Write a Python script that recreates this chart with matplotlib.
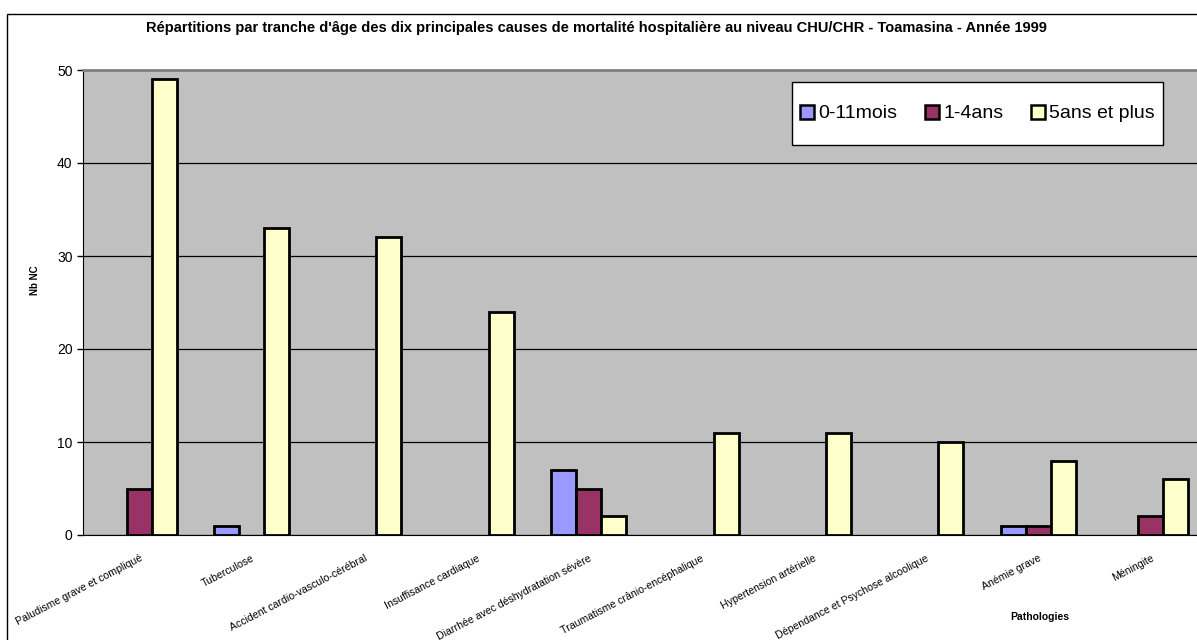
import numpy as np
import matplotlib
matplotlib.use("Agg")
import matplotlib.pyplot as plt
from matplotlib.patches import Rectangle

plt.rcParams['font.family'] = ['Liberation Sans', 'DejaVu Sans']

# Data
pathologies = [
    "Paludisme grave et compliqué",
    "Tuberculose",
    "Accident cardio-vasculo-cérébral",
    "Insuffisance cardiaque",
    "Diarrhée avec déshydratation sévère",
    "Traumatisme crânio-encéphalique",
    "Hypertension artérielle",
    "Dépendance et Psychose alcoolique",
    "Anémie grave",
    "Méningite",
]
mois_0_11 = [0, 1, 0, 0, 7, 0, 0, 0, 1, 0]
ans_1_4 = [5, 0, 0, 0, 5, 0, 0, 0, 1, 2]
ans_5_plus = [49, 33, 32, 24, 2, 11, 11, 10, 8, 6]
series_names = ["0-11mois", "1-4ans", "5ans et plus"]
colors = ["#9999FF", "#993366", "#FFFFCC"]

W, H = 1197, 640
fig = plt.figure(figsize=(W / 100, H / 100), dpi=100)
ax = fig.add_axes([83 / W, 105 / H, 1124 / W, 465 / H])
ax.set_facecolor("#C0C0C0")

x = np.arange(len(pathologies))
w = 1 / 4.5
for i, (vals, name, col) in enumerate(zip([mois_0_11, ans_1_4, ans_5_plus], series_names, colors)):
    v = np.array(vals, dtype=float)
    v[v == 0] = np.nan  # Excel draws nothing for zero values
    ax.bar(x + (i - 1) * w, v, width=w, color=col, edgecolor="black",
           linewidth=2, label=name, zorder=3)

ax.set_xlim(-0.5, len(pathologies) - 0.5)
ax.set_ylim(0, 50)
ax.set_yticks(range(0, 51, 10))
ax.yaxis.grid(True, color="black", linewidth=0.9, zorder=1)
ax.tick_params(axis="y", labelsize=10, length=4, width=1)
ax.tick_params(axis="x", length=0, pad=13)
ax.set_xticks(x)
ax.set_xticklabels(pathologies, rotation=27.5, ha="right", va="top",
                   rotation_mode="anchor", fontsize=7.6)

for s in ["top", "right"]:
    ax.spines[s].set_color("#808080")
    ax.spines[s].set_linewidth(2)
ax.spines["left"].set_color("black")
ax.spines["bottom"].set_color("black")

fig.text(0.498, 1 - 28 / H, "Répartitions par tranche d'âge des dix principales causes de mortalité hospitalière au niveau CHU/CHR - Toamasina - Année 1999",
         ha="center", va="center", fontsize=10.5, fontweight="bold")
fig.text(35 / W, 1 - 280 / H, "Nb NC", rotation=90, ha="center", va="center",
         fontsize=7, fontweight="bold")
fig.text(1040 / W, 1 - 617 / H, "Pathologies", ha="center", va="center",
         fontsize=7.5, fontweight="bold")

# legend box drawn separately (Excel pads more vertically than horizontally)
ax.add_patch(Rectangle((792 / W, 1 - 145 / H), 371 / W, 63 / H, transform=fig.transFigure,
                       facecolor="white", edgecolor="black", linewidth=1, zorder=4,
                       clip_on=False))
leg = ax.legend(loc="center", bbox_to_anchor=(977.5 / W, 1 - 113.5 / H),
                bbox_transform=fig.transFigure, ncol=3, fontsize=14, frameon=False,
                handlelength=0.72, handleheight=0.72, handletextpad=0.2,
                columnspacing=1.45, borderpad=0, borderaxespad=0)
for p in leg.get_patches():
    p.set_linewidth(1.8)
leg.set_zorder(5)

fig.add_artist(Rectangle((7 / W, -0.1), 1.2, 1.1 - 14 / H, transform=fig.transFigure,
                         fill=False, edgecolor="black", linewidth=1))

fig.savefig("out.png", dpi=100)
